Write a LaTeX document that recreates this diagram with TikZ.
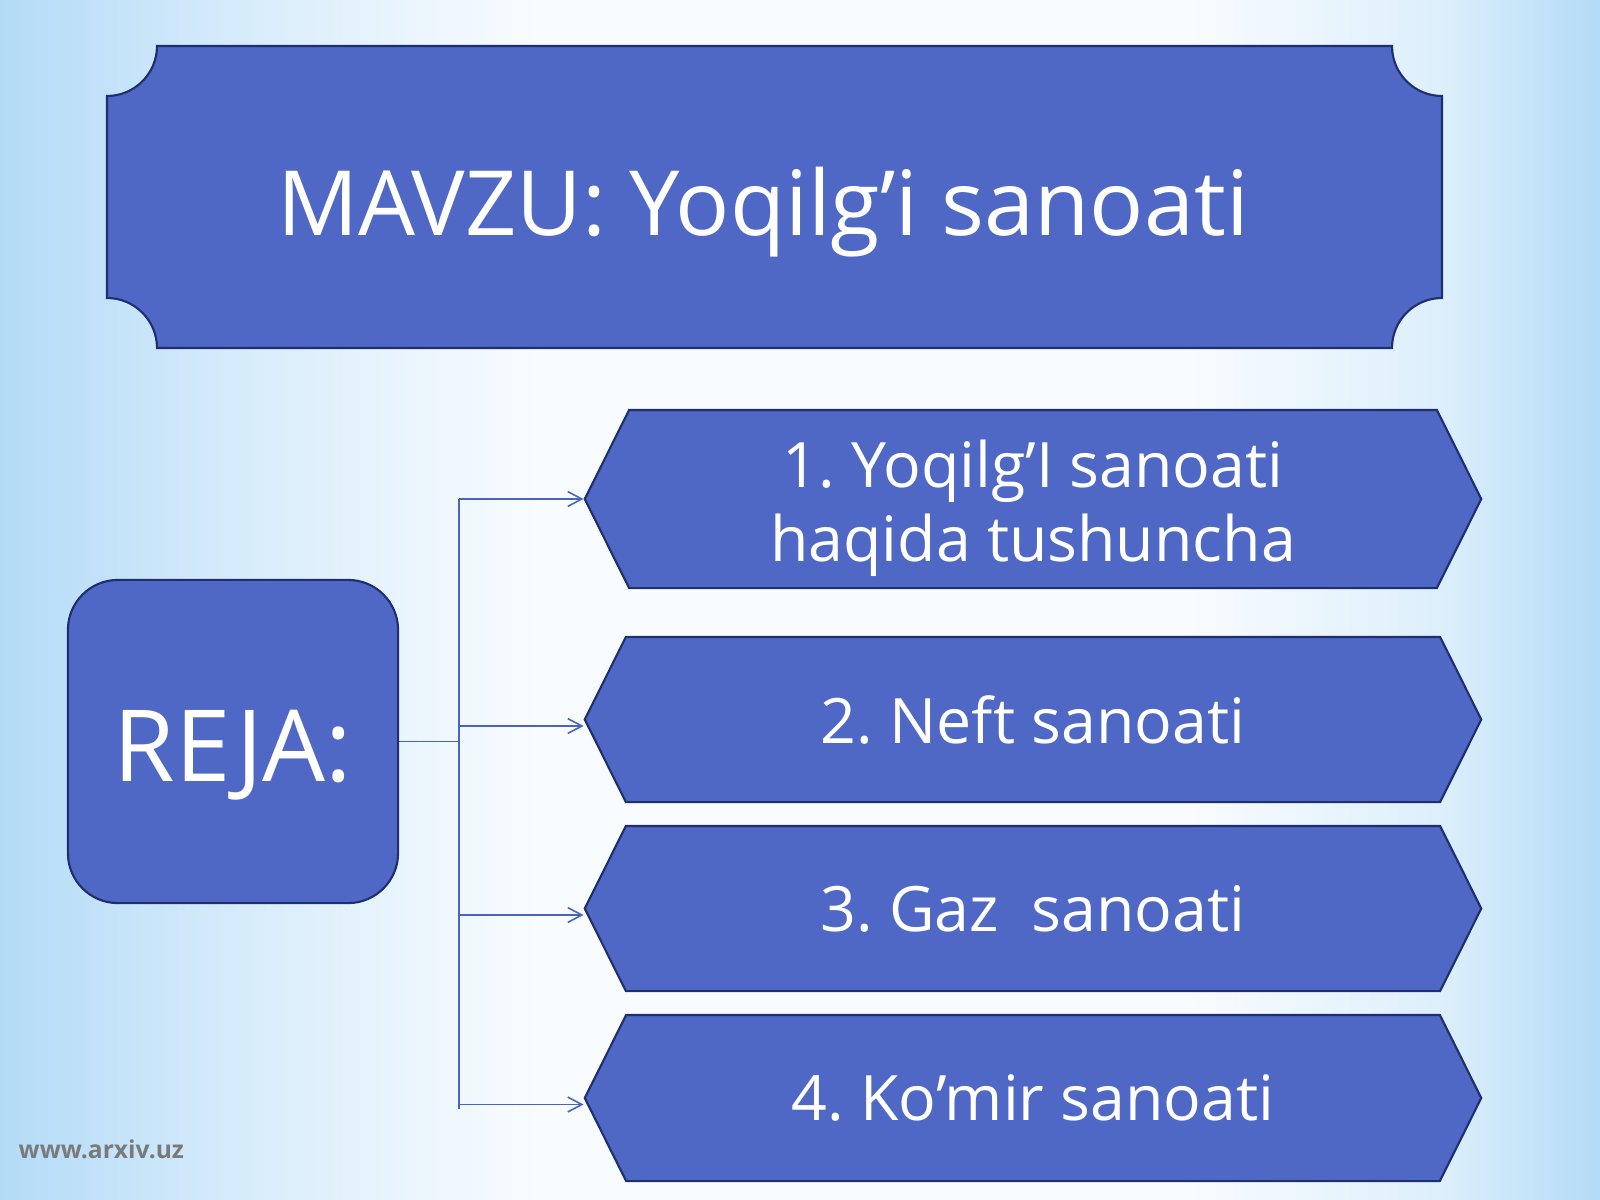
\documentclass[tikz,border=0pt]{standalone}
\usepackage{fontspec}
\setmainfont{Open Sans}
\usepackage{tikz}
\usetikzlibrary{calc}
\usetikzlibrary{arrows.meta}
\usetikzlibrary{shapes.symbols}
\definecolor{boxblue}{HTML}{4F67C5}
\definecolor{boxedge}{HTML}{1F2F6E}
\definecolor{linkblue}{HTML}{4A63C3}
\definecolor{skyblue}{HTML}{B3DBF7}
\definecolor{markgray}{HTML}{7A7A7A}
\pgfdeclarehorizontalshading{skyfade}{100bp}{color(0bp)=(skyblue); color(25bp)=(skyblue);
  color(33bp)=(skyblue!50!white); color(42bp)=(skyblue!8!white); color(62bp)=(skyblue!8!white);
  color(70bp)=(skyblue!45!white); color(75bp)=(skyblue); color(100bp)=(skyblue)}
\frenchspacing

\begin{document}
\begin{tikzpicture}[x=0.01cm, y=-0.01cm,
  box/.style={fill=boxblue, draw=boxedge, line width=0.6pt, text=white},
  itembox/.style={box, shape=signal, signal to=west and east, signal pointer angle=127,
    minimum width=8.96cm, align=center, inner sep=0pt, font=\fontsize{17.8}{20.8}\selectfont},
  link/.style={linkblue, line width=0.45pt},
  tip/.style={-{Straight Barb[length=4pt,width=4.2pt]}}]
\useasboundingbox (0,0) rectangle (1600,1200);
\shade[shading=skyfade] (0,0) rectangle (1600,1200);

\draw[box] (157,46) -- (1392,46) arc[start angle=180,end angle=90,radius=50]
  -- (1442,298) arc[start angle=270,end angle=180,radius=50]
  -- (157,348) arc[start angle=0,end angle=-90,radius=50]
  -- (107,96) arc[start angle=90,end angle=0,radius=50] -- cycle;
\node[anchor=base, text=white, font=\fontsize{25.6}{30}\selectfont] (title) at (763,235) {MAVZU: Yoqilg’i sanoati};

\node[box, rounded corners=0.5cm, minimum width=3.3cm, minimum height=3.23cm,
  text height=0.79cm, text depth=0pt, font=\fontsize{28.3}{30}\selectfont] (reja) at (233,741.5) {REJA:};

\node[itembox, minimum height=1.78cm, text height=1.25cm, text depth=0.01cm] (item1) at (1033,499)
  {1. Yoqilg’I sanoati\\haqida tushuncha};
\foreach \n/\yc/\h/\txt in {2/719.5/1.65cm/{2. Neft sanoati}, 3/908.5/1.65cm/{3. Gaz\ \ sanoati},
  4/1098/1.66cm/{4. Ko’mir sanoati}}
  \node[itembox, minimum height=\h] (item\n) at (1033,\yc) {\txt};

\coordinate (bus) at (459,499);
\coordinate (busend) at (459,1109);
\draw[link] (reja.east) -- (reja.east -| bus);
\draw[link] (bus) -- (busend);
\draw[link,tip] (bus) -- (item1.west);
\foreach \n in {2,3,4} {
  \coordinate (end\n) at ([yshift=-0.065cm]item\n.west);
  \draw[link,tip] (end\n -| bus) -- (end\n);
}

\node[anchor=base west, inner sep=0pt, text=markgray, font=\fontsize{7}{8}\selectfont\bfseries] (site) at (18,1158) {www.arxiv.uz};
\end{tikzpicture}
\end{document}
